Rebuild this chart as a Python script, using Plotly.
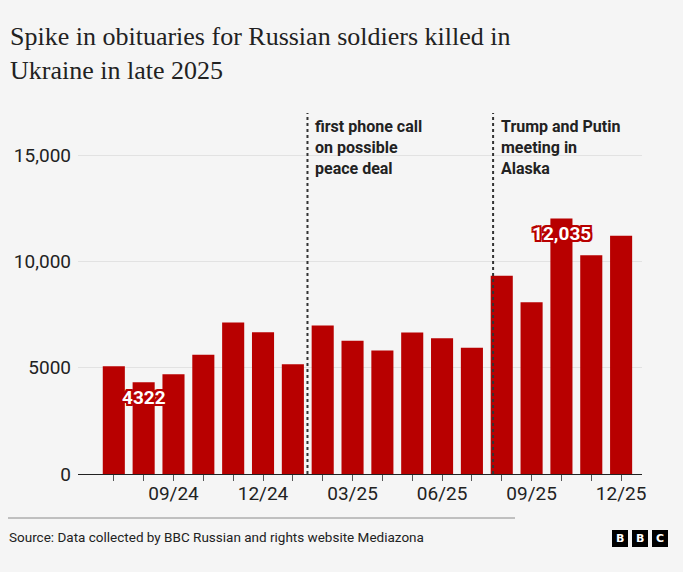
import plotly.graph_objects as go

# ----------- data -------------------------------
months = ["07/24", "08/24", "09/24", "10/24", "11/24", "12/24",
          "01/25", "02/25", "03/25", "04/25", "05/25", "06/25",
          "07/25", "08/25", "09/25", "10/25", "11/25", "12/25"]
obituaries = [5070, 4322, 4700, 5620, 7130, 6670, 5170, 6990, 6280,
              5810, 6660, 6390, 5950, 9340, 8090, 12035, 10300, 11220]
shown_ticks = ["09/24", "12/24", "03/25", "06/25", "09/25", "12/25"]
y_ticks = [0, 5000, 10000, 15000]
y_tick_labels = ["0", "5000", "10,000", "15,000"]
events = ["first phone call<br>on possible<br>peace deal",
          "Trump and Putin<br>meeting in<br>Alaska"]
event_x = [6.49, 12.71]          # position between monthly bars
labelled = {1: "4322", 15: "12,035"}
# ------------------------------------------------

RED = "#b80000"
INK = "#222222"
BG = "#f5f5f5"
SANS = "Roboto, sans-serif"
W, H = 683, 572
L, R, T, B = 78, 41, 113, 98


def px_x(px):
    return (px - L) / (W - L - R)


def px_y(py):
    return (H - B - py) / (H - T - B)


x_idx = list(range(len(months)))
tick_text = [m if m in shown_ticks else "" for m in months]

fig = go.Figure(go.Bar(x=x_idx, y=obituaries, marker_color=RED,
                       marker_line_width=0, width=0.74,
                       hoverinfo="x+y", customdata=months))

halo = ", ".join(f"{dx}px {dy}px 0 {RED}" for dx in (-2, 0, 2) for dy in (-2, 0, 2))
for i, txt in labelled.items():
    fig.add_annotation(x=i, y=obituaries[i], text=txt, showarrow=False,
                       yanchor="middle", yshift=-15,
                       font=dict(family=SANS, size=19, color="white",
                                 weight=700, shadow=halo))

for xe, txt in zip(event_x, events):
    fig.add_shape(type="line", x0=xe, x1=xe, y0=0, y1=1, yref="paper",
                  line=dict(color="#333333", width=2, dash="dot"))
    fig.add_annotation(x=xe, y=1, yref="paper", text=txt, showarrow=False,
                       xanchor="left", yanchor="top", align="left",
                       xshift=6, yshift=-2,
                       font=dict(family=SANS, size=16, color=INK, weight=700))

# footer: rule, source, logo
fig.add_shape(type="line", xref="paper", yref="paper",
              x0=px_x(8), x1=px_x(515), y0=px_y(518), y1=px_y(518),
              line=dict(color="#8a8a8a", width=1))
fig.add_annotation(xref="paper", yref="paper", x=px_x(7), y=px_y(537),
                   xanchor="left", yanchor="middle", showarrow=False,
                   text="Source: Data collected by BBC Russian and rights website Mediazona",
                   font=dict(family=SANS, size=13.5, color=INK))
for k, letter in enumerate("BBC"):
    x0 = 612 + 20 * k
    fig.add_shape(type="rect", xref="paper", yref="paper",
                  x0=px_x(x0), x1=px_x(x0 + 16), y0=px_y(547), y1=px_y(530),
                  fillcolor="black", line_width=0)
    fig.add_annotation(xref="paper", yref="paper", x=px_x(x0 + 8), y=px_y(538.5),
                       text=letter, showarrow=False, xanchor="center", yanchor="middle",
                       font=dict(family="DejaVu Sans", size=11, color="white", weight=700))

fig.update_layout(
    width=W, height=H,
    margin=dict(l=L, r=R, t=T, b=B),
    paper_bgcolor=BG, plot_bgcolor=BG,
    showlegend=False,
    title=dict(text="Spike in obituaries for Russian soldiers killed in<br>Ukraine in late 2025",
               x=10 / W, xref="container", xanchor="left",
               y=1 - 45 / H, yref="container", yanchor="top",
               font=dict(family="Liberation Serif", size=26, color=INK)),
    xaxis=dict(range=[-1.2, 17.7], tickvals=x_idx, ticktext=tick_text,
               ticks="outside", ticklen=6, tickcolor="#555555", tickwidth=1,
               showline=True, linecolor=INK, linewidth=1, ticklabelstandoff=-4,
               showgrid=False, zeroline=False, fixedrange=True,
               tickfont=dict(family=SANS, size=19, color=INK)),
    yaxis=dict(range=[0, 17000], tickvals=y_ticks, ticktext=y_tick_labels,
               showgrid=True, gridcolor="#e2e2e2", gridwidth=1,
               zeroline=False, showline=False, ticks="", ticklabelstandoff=6,
               fixedrange=True,
               tickfont=dict(family=SANS, size=19, color=INK)),
)

# the page's default body margin would shift the chart; drop it
fig.write_html("out.html", config={"displayModeBar": False},
               post_script="document.body.style.margin='0';")
